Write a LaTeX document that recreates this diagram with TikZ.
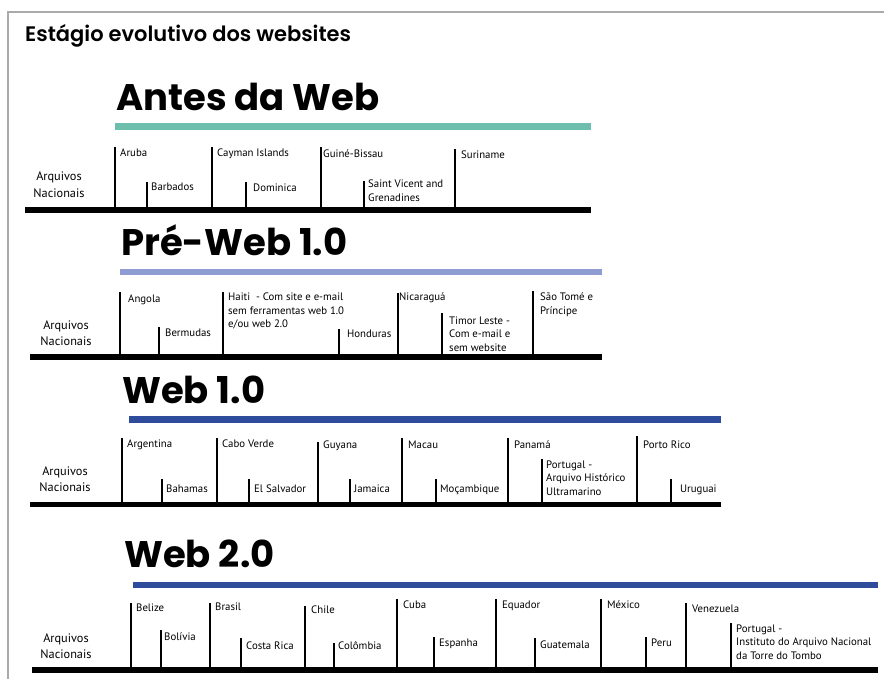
\documentclass[tikz,border=0pt]{standalone}
\usepackage{fontspec}
\setmainfont{PT Sans}
\newfontfamily\headfont{Poppins}[UprightFont=* Bold]
\newfontfamily\titlefont{Poppins}[UprightFont=* SemiBold]
\definecolor{frame}{HTML}{AAAAAA}
\definecolor{teal}{HTML}{6DBEAD}
\definecolor{peri}{HTML}{8E9CD2}
\definecolor{webblue}{HTML}{2F4B9B}
\newcommand\mlines[1]{\begin{tabular}[t]{@{}l@{}}#1\end{tabular}}
\newcommand\clines[1]{\begin{tabular}[t]{@{}c@{}}#1\end{tabular}}
\newcommand\evtick[7]{%
  \draw[tickline] (#2,#3) coordinate (#1t) -- (#2,#4) coordinate (#1b);
  \node[lbl] (#1) at (#5,#6) {#7};}
\tikzset{
  tickline/.style={line width=1.4pt, black},
  lbl/.style={anchor=base west, inner sep=0pt, font=\fontsize{10.8}{13.5}\selectfont},
  arq/.style={anchor=base, inner sep=0pt, font=\fontsize{12.3}{16.5}\selectfont},
  heading/.style={anchor=base west, inner sep=0pt, font=\headfont\fontsize{37}{40}\selectfont},
  axis/.style={line width=5.5pt, black},
  band/.style={line width=6.5pt}
}
\begin{document}
\begin{tikzpicture}[x=1pt,y=-1pt]
\useasboundingbox (0,0) rectangle (884,679);
\fill[white] (0,0) rectangle (884,679);
% frame
\draw[frame, line width=1.5pt] (884,12) -- (8,12) -- (8,679);
% title
\node[anchor=base west, inner sep=0pt, font=\titlefont\fontsize{21}{24}\selectfont] (title) at (25,42) {Estágio evolutivo dos websites};

% ---------- Antes da Web ----------
\node[heading] (h1) at (116,111) {Antes da Web};
\draw[band, teal] (115,126.5) -- (591,126.5);
\draw[axis] (25,210) -- (591,210);
\node[arq] (arq1) at (59,181) {\clines{Arquivos\\Nacionais}};
\evtick{aruba}{115}{147}{210}{120}{157}{Aruba}
\evtick{barb}{147}{182}{210}{151}{191}{Barbados}
\evtick{cay}{212}{147}{210}{217}{157}{Cayman Islands}
\evtick{dom}{246}{182}{210}{253}{192}{Dominica}
\evtick{guine}{321}{147}{210}{323}{158}{Guiné-Bissau}
\evtick{svg}{364}{181}{210}{368}{188}{\mlines{Saint Vicent and\\Grenadines}}
\evtick{sur}{455}{149}{210}{461}{159}{Suriname}

% ---------- Pre-Web 1.0 ----------
\node[heading] (h2) at (121,256) {Pré-Web 1.0};
\draw[band, peri] (120,272) -- (602,272);
\draw[axis] (30,357) -- (602,357);
\node[arq] (arq2) at (66,329) {\clines{Arquivos\\Nacionais}};
\evtick{angola}{120}{292}{357}{128}{302}{Angola}
\evtick{berm}{159}{327}{357}{165}{336}{Bermudas}
\evtick{haiti}{223}{292}{357}{228}{301}{\mlines{Haiti \ - Com site e e-mail\\sem ferramentas web 1.0\\e/ou web 2.0}}
\evtick{hond}{339}{329}{357}{347}{337}{Honduras}
\evtick{nica}{398}{293}{357}{399}{301}{Nicaraguá}
\evtick{timor}{442}{313}{357}{449}{324}{\mlines{Timor Leste -\\Com e-mail e\\sem website}}
\evtick{stp}{533}{291}{357}{540}{301}{\mlines{São Tomé e\\Príncipe}}

% ---------- Web 1.0 ----------
\node[heading] (h3) at (122,403) {Web 1.0};
\draw[band, webblue] (129,419.5) -- (721,419.5);
\draw[axis] (30,504.5) -- (721,504.5);
\node[arq] (arq3) at (65,475) {\clines{Arquivos\\Nacionais}};
\evtick{arg}{122}{438}{504}{127}{447}{Argentina}
\evtick{bah}{162}{479}{504}{166}{492}{Bahamas}
\evtick{cabo}{217}{438}{504}{222}{447}{Cabo Verde}
\evtick{els}{249}{479}{504}{254}{492}{El Salvador}
\evtick{guy}{318}{442}{504}{323}{448}{Guyana}
\evtick{jam}{350}{479}{504}{354}{492}{Jamaica}
\evtick{macau}{402}{438}{504}{408}{448}{Macau}
\evtick{moc}{436}{479}{504}{440}{492}{Moçambique}
\evtick{pan}{508}{438}{504}{514}{448}{Panamá}
\evtick{port}{542}{459}{504}{546}{468}{\mlines{Portugal -\\Arquivo Histórico\\Ultramarino}}
\evtick{prico}{637}{436}{504}{643}{448}{Porto Rico}
\evtick{uru}{671}{479}{504}{680}{492}{Uruguai}

% ---------- Web 2.0 ----------
\node[heading] (h4) at (124,567) {Web 2.0};
\draw[band, webblue] (133,585) -- (878,585);
\draw[axis] (32,670) -- (878,670);
\node[arq] (arq4) at (66,642) {\clines{Arquivos\\Nacionais}};
\evtick{bel}{131}{603}{670}{136}{611}{Belize}
\evtick{bol}{161}{630}{670}{164}{640}{Bolívia}
\evtick{bra}{210}{603}{670}{215}{610}{Brasil}
\evtick{cr}{241}{638}{670}{246}{649}{Costa Rica}
\evtick{chi}{305}{606}{670}{311}{613}{Chile}
\evtick{col}{334}{643}{670}{338}{649}{Colômbia}
\evtick{cuba}{397}{599}{670}{403}{608}{Cuba}
\evtick{esp}{434}{637}{670}{439}{646}{Espanha}
\evtick{equ}{496}{599}{670}{502}{608}{Equador}
\evtick{gua}{535}{638}{670}{540}{648}{Guatemala}
\evtick{mex}{601}{599}{670}{607}{608}{México}
\evtick{peru}{646}{637}{670}{651}{646}{Peru}
\evtick{ven}{686}{603}{670}{692}{612}{Venezuela}
\evtick{tt}{731}{623}{670}{736}{632}{\mlines{Portugal -\\Instituto do Arquivo Nacional\\da Torre do Tombo}}
\end{tikzpicture}
\end{document}
